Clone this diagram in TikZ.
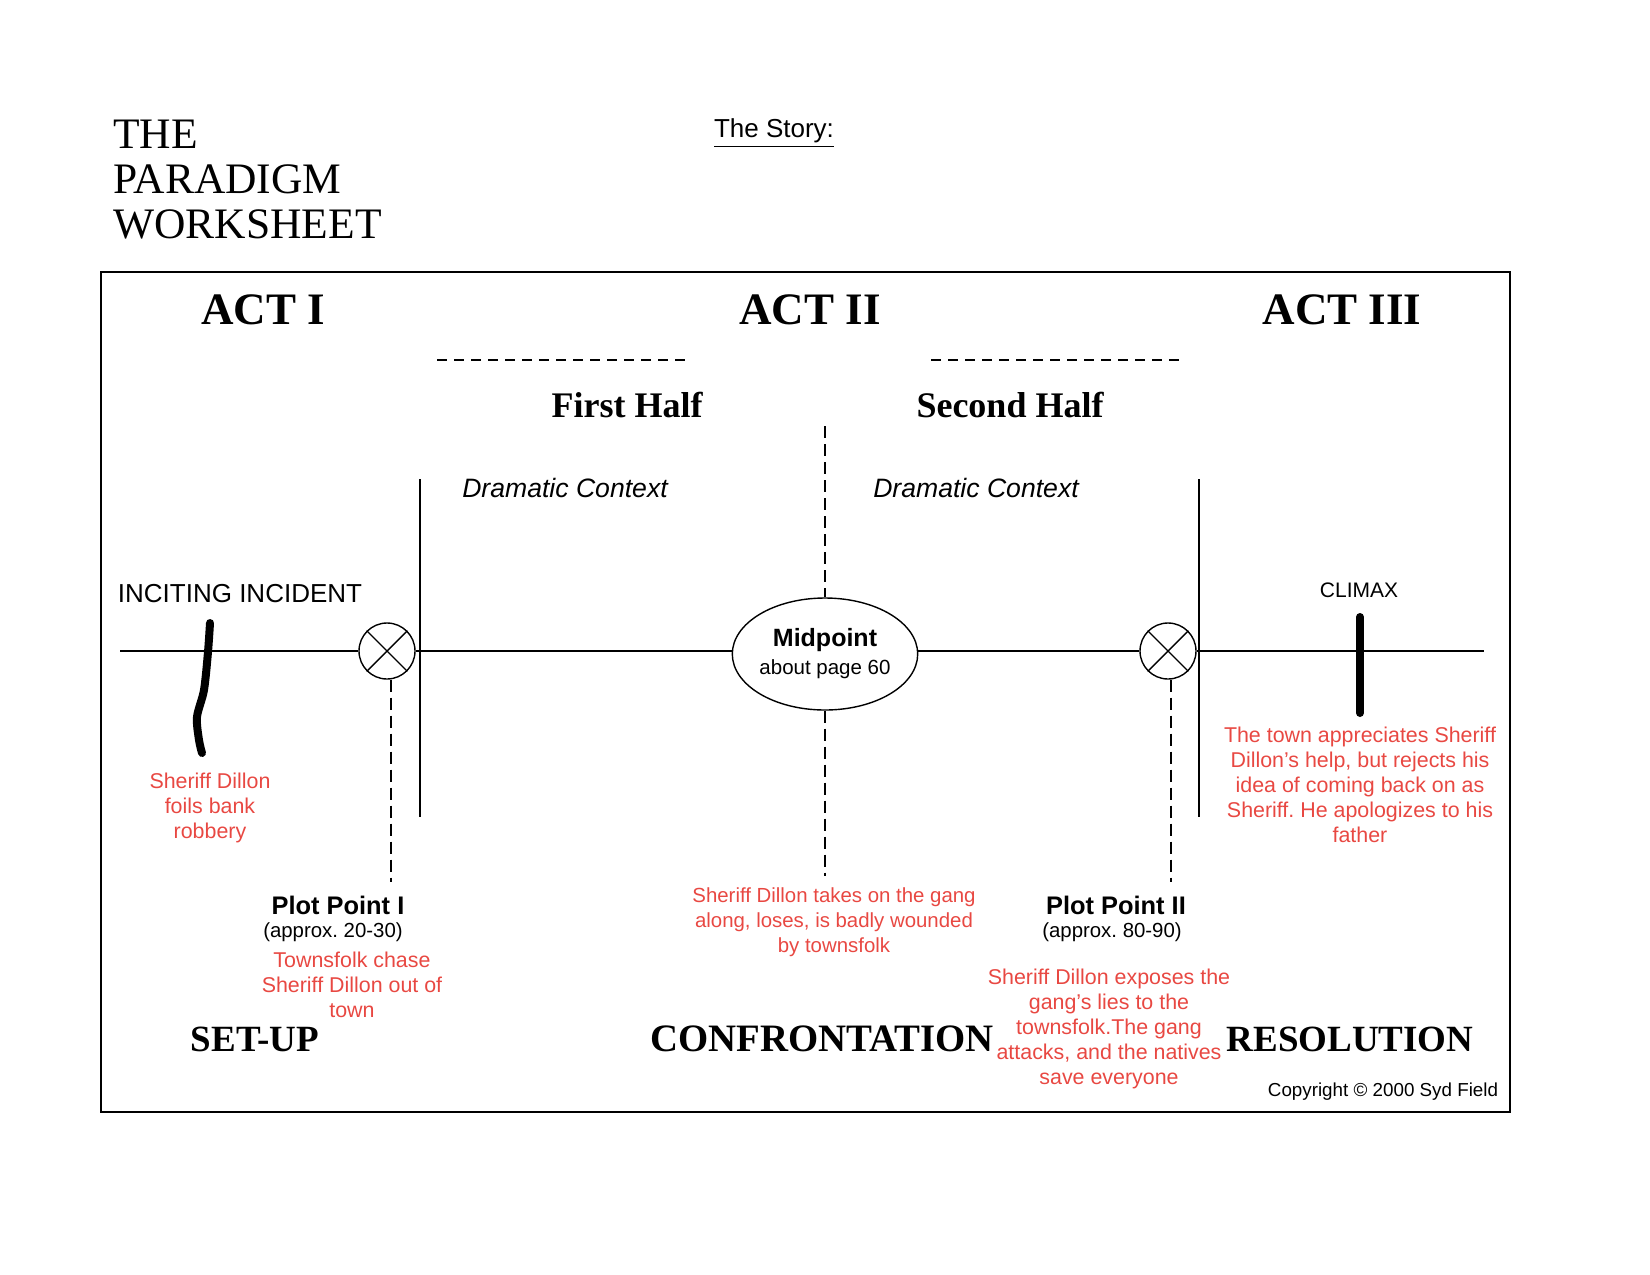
\documentclass[tikz,border=0pt]{standalone}
\usepackage{fontspec}
\setmainfont{Liberation Serif}
\setsansfont{Liberation Sans}
\usetikzlibrary{shapes.geometric}
\frenchspacing

\definecolor{notered}{RGB}{232,72,66}

\tikzset{
  rule/.style={line width=0.7pt},
  dashrule/.style={line width=0.7pt, dash pattern=on 6pt off 3pt},
  actlabel/.style={font=\bfseries\fontsize{22.5}{26}\selectfont},
  halflabel/.style={font=\bfseries\fontsize{18}{21}\selectfont},
  partlabel/.style={font=\bfseries\fontsize{18.5}{21}\selectfont},
  note/.style={text=notered, align=center, inner sep=0pt,
    font=\sffamily\fontsize{10.7}{12.5}\selectfont},
  ppoint/.style={draw, circle, minimum size=28pt, inner sep=0pt, rule},
  bigmark/.style={line width=4pt, line cap=round}
}

\begin{document}
\begin{tikzpicture}[x=0.5pt,y=-0.5pt]
  \useasboundingbox (0,0) rectangle (1650,1275);

  % heading
  \node[anchor=north west, align=left, inner sep=0pt,
    font=\fontsize{21.75}{22.5}\selectfont] (title) at (113,120)
    {THE\\PARADIGM\\WORKSHEET};
  \node[font=\sffamily\fontsize{13}{15}\selectfont] (story) at (774,133) {\underline{The Story:}};

  % frame
  \draw[line width=1pt] (101,272) rectangle (1510,1112);

  % acts
  \node[actlabel] (act1) at (263,310) {ACT I};
  \node[actlabel] (act2) at (810,310) {ACT II};
  \node[actlabel] (act3) at (1342,310) {ACT III};
  \draw[rule, dash pattern=on 5pt off 3.5pt] (437,360) -- (691,360);
  \draw[rule, dash pattern=on 5pt off 3.5pt] (931,360) -- (1185,360);
  \node[halflabel] (half1) at (627,405) {First Half};
  \node[halflabel] (half2) at (1010,405) {Second Half};
  \node[font=\sffamily\itshape\fontsize{13.3}{16}\selectfont] (ctx1) at (565,488) {Dramatic Context};
  \node[font=\sffamily\itshape\fontsize{13.3}{16}\selectfont] (ctx2) at (976,488) {Dramatic Context};

  % act borders
  \draw[rule] (420,479) -- (420,817);
  \draw[rule] (1199,479) -- (1199,817);

  % time line
  \coordinate (start) at (120,651);
  \coordinate (end) at (1484,651);
  \node[ppoint] (pp1) at (387,651) {};
  \node[ppoint] (pp2) at (1168,651) {};
  \node[draw, ellipse, rule, minimum width=91pt, minimum height=56pt, inner sep=0pt,
    align=center, font=\sffamily\fontsize{10.25}{14}\selectfont] (mid) at (825,654)
    {{\bfseries\fontsize{12.5}{14}\selectfont Midpoint}\\about page 60};
  \draw[rule] (start) -- (pp1);
  \draw[rule] (pp1) -- (mid.west |- start);
  \draw[rule] (mid.east |- start) -- (pp2);
  \draw[rule] (pp2) -- (end);
  \foreach \p in {pp1,pp2} {
    \draw[rule] (\p.45) -- (\p.225);
    \draw[rule] (\p.135) -- (\p.-45);
  }

  % dashed drops
  \coordinate (midtop) at (825,426);
  \coordinate (midbot) at (825,876);
  \coordinate (pp1bot) at (391,882);
  \coordinate (pp2bot) at (1171,882);
  \draw[dashrule] (midtop) -- (mid);
  \draw[dashrule] (mid) -- (midbot);
  \draw[dashrule] (pp1.south -| pp1bot) -- (pp1bot);
  \draw[dashrule] (pp2.south -| pp2bot) -- (pp2bot);

  % inciting incident and climax
  \node[font=\sffamily\fontsize{13}{15}\selectfont] (incite) at (240,594) {INCITING INCIDENT};
  \draw[bigmark] plot[smooth] coordinates {(210,623) (208,652) (204,690) (197,717) (199,740) (202,753)};
  \node[font=\sffamily\fontsize{10.5}{12}\selectfont] (climax) at (1359,590) {CLIMAX};
  \draw[bigmark] (1360,617) -- (1360,713);

  % plot points
  \node[font=\sffamily\bfseries\fontsize{12.7}{15}\selectfont] (pp1name) at (338,905) {Plot Point I};
  \node[font=\sffamily\fontsize{10.2}{12}\selectfont] (pp1pages) at (333,932) {(approx. 20-30)};
  \node[font=\sffamily\bfseries\fontsize{12.7}{15}\selectfont] (pp2name) at (1116,905) {Plot Point II};
  \node[font=\sffamily\fontsize{10.2}{12}\selectfont] (pp2pages) at (1112,932) {(approx. 80-90)};

  % story notes
  \node[note] (n1) at (210,808) {Sheriff Dillon\\foils bank\\robbery};
  \node[note] (n2) at (352,985) {Townsfolk chase\\Sheriff Dillon out of\\town};
  \node[note, font=\sffamily\fontsize{10.2}{12.5}\selectfont] (n3) at (834,922)
    {Sheriff Dillon takes on the gang\\along, loses, is badly wounded\\by townsfolk};
  \node[note] (n4) at (1109,1029) {Sheriff Dillon exposes the\\gang’s lies to the\\townsfolk.The gang\\attacks, and the natives\\save everyone};
  \node[note] (n5) at (1360,785) {The town appreciates Sheriff\\Dillon’s help, but rejects his\\idea of coming back on as\\Sheriff. He apologizes to his\\father};

  % parts
  \node[partlabel] (setup) at (255,1039) {SET-UP};
  \node[partlabel, font=\bfseries\fontsize{19.4}{21}\selectfont] (confront) at (822,1039) {CONFRONTATION};
  \node[partlabel] (resol) at (1350,1039) {RESOLUTION};
  \node[font=\sffamily\fontsize{9.4}{11}\selectfont] (copy) at (1383,1092) {Copyright © 2000 Syd Field};
\end{tikzpicture}
\end{document}
